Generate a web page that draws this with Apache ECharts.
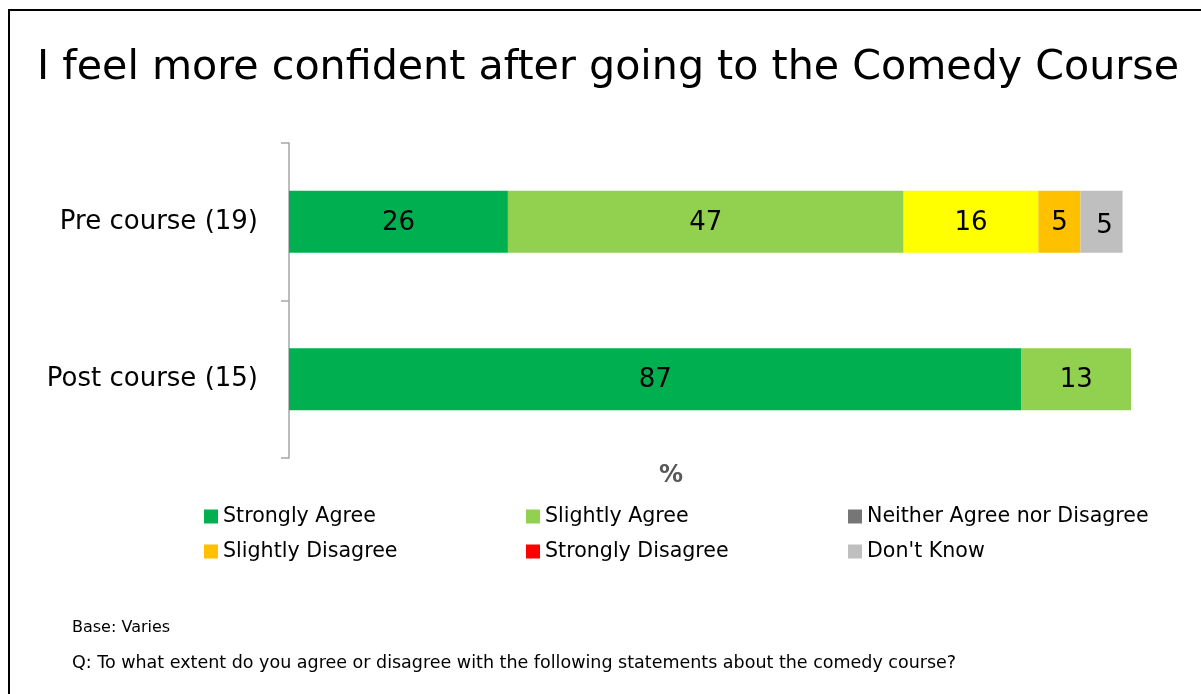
<!DOCTYPE html>
<html>
<head>
<meta charset="utf-8">
<script src="https://cdn.jsdelivr.net/npm/echarts@6/dist/echarts.min.js"></script>
<style>
  html, body { margin: 0; padding: 0; background: #fff; }
  #frame { position: absolute; left: 8px; top: 9px; width: 1300px; height: 800px; border: 2px solid #000; box-sizing: border-box; }
  #chart { position: absolute; left: 0; top: 0; width: 1201px; height: 694px; }
</style>
</head>
<body>
<div id="frame"></div>
<div id="chart"></div>
<script>
// Survey responses (%) before and after the comedy course
const categories = ['Pre course (19)', 'Post course (15)'];
const seriesNames = ['Strongly Agree', 'Slightly Agree', 'Neither Agree nor Disagree', 'Slightly Disagree', 'Strongly Disagree', "Don't Know"];
const stronglyAgree = [26, 87];
const slightlyAgree = [47, 13];
const neither = [16, null];
const slightlyDisagree = [5, null];
const stronglyDisagree = [null, null];
const dontKnow = [5, null];

const values = [stronglyAgree, slightlyAgree, neither, slightlyDisagree, stronglyDisagree, dontKnow];
const barColors = ['#00B050', '#92D050', '#FFFF00', '#FFC000', '#FF0000', '#BFBFBF'];
const legendColors = ['#00B050', '#92D050', '#767676', '#FFC000', '#FF0000', '#BFBFBF'];

const FONT = 'Tahoma, "DejaVu Sans", Verdana, sans-serif';

const chart = echarts.init(document.getElementById('chart'));

const series = seriesNames.map((name, i) => ({
  name: name,
  type: 'bar',
  stack: 'total',
  barWidth: 62,
  data: values[i],
  itemStyle: { color: barColors[i] },
  label: {
    show: true,
    position: 'inside',
    color: '#000',
    fontFamily: FONT,
    fontSize: 26,
    offset: i === 5 ? [3, 4] : [0, 1],
    formatter: p => (p.value == null ? '' : String(p.value))
  },
  emphasis: { disabled: true }
}));

// one legend per entry so the entries sit in a fixed 3-column grid
const legendPos = [
  [204, 506], [526, 506], [848, 506],
  [204, 541], [526, 541], [848, 541]
];
const legends = seriesNames.map((name, i) => ({
  show: true,
  left: legendPos[i][0],
  top: legendPos[i][1],
  padding: 0,
  itemWidth: 14,
  itemHeight: 14,
  itemGap: 0,
  icon: 'rect',
  selectedMode: false,
  textStyle: { fontFamily: FONT, fontSize: 20.6, color: '#000', padding: [0, 0, 0, 0] },
  data: [{ name: name, itemStyle: { color: legendColors[i] } }]
}));

chart.setOption({
  animation: false,
  backgroundColor: 'transparent',
  title: {
    text: 'I feel more confident after going to the Comedy Course',
    left: 32,
    top: 43,
    textStyle: { fontFamily: FONT, fontSize: 41.2, fontWeight: 'normal', color: '#000' }
  },
  legend: legends,
  grid: { left: 289, right: 70, top: 143, bottom: 236, containLabel: false },
  xAxis: {
    type: 'value',
    min: 0,
    max: 100,
    show: false
  },
  yAxis: {
    type: 'category',
    inverse: true,
    data: categories,
    axisLine: { show: true, lineStyle: { color: '#A6A6A6', width: 1.5 } },
    axisTick: { show: true, length: 8, lineStyle: { color: '#A6A6A6', width: 1.5 } },
    axisLabel: { margin: 31, fontFamily: FONT, fontSize: 26, color: '#000' }
  },
  graphic: [
    { type: 'text', left: 659, top: 464, style: { text: '%', fontFamily: FONT, fontSize: 24, fontWeight: 'bold', fill: '#595959' } },
    { type: 'text', left: 72, top: 620, style: { text: 'Base: Varies', fontFamily: FONT, fontSize: 16, fill: '#000' } },
    { type: 'text', left: 72, top: 654, style: { text: 'Q: To what extent do you agree or disagree with the following statements about the comedy course?', fontFamily: FONT, fontSize: 17.5, fill: '#000' } }
  ],
  series: series
});
</script>
</body>
</html>
